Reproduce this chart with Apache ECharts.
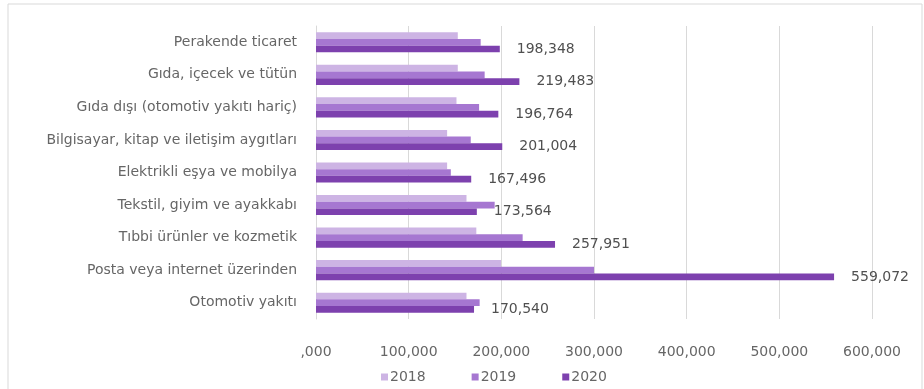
<!DOCTYPE html>
<html><head><meta charset="utf-8">
<script src="https://cdn.jsdelivr.net/npm/echarts@6/dist/echarts.min.js"></script>
<style>html,body{margin:0;padding:0;background:#fff}#c{width:924px;height:389px}</style>
</head><body><div id="c"></div>
<script>
const categories = ["Perakende ticaret","Gıda, içecek ve tütün","Gıda dışı (otomotiv yakıtı hariç)","Bilgisayar, kitap ve iletişim aygıtları","Elektrikli eşya ve mobilya","Tekstil, giyim ve ayakkabı","Tıbbi ürünler ve kozmetik","Posta veya internet üzerinden","Otomotiv yakıtı"];
const s2018 = [153000,153000,151600,141500,141500,162400,173000,199600,162400];
const s2019 = [177700,182000,176000,167000,145500,192800,223000,300000,176600];
const s2020 = [198348,219483,196764,201004,167496,173564,257951,559072,170540];
const seriesNames = ["2018","2019","2020"];
const colors = ["#cdb4e4","#a677d1","#7d41ae"];
const fmt = v => v === 0 ? ",000" : v.toLocaleString("en-US");
const font = "DejaVu Sans, sans-serif";
const fs = 14;
const chart = echarts.init(document.getElementById("c"));
const data = [s2018, s2019, s2020];
chart.setOption({
  animation:false,
  textStyle:{fontFamily:font},
  graphic:[{type:"rect",shape:{x:8,y:4,width:914,height:392},style:{fill:"none",stroke:"#d9d9d9",lineWidth:1}}],
  grid:{left:316,right:52,top:26,bottom:70},
  legend:{top:365,left:376,itemWidth:7,itemHeight:7,itemGap:46,icon:"rect",
    textStyle:{fontFamily:font,fontSize:fs,color:"#666666",padding:[0,0,0,-3]},data:seriesNames},
  xAxis:{type:"value",min:0,max:600000,interval:100000,
    axisLine:{show:false},axisTick:{show:false},
    splitLine:{lineStyle:{color:"#d9d9d9"}},
    axisLabel:{formatter:fmt,margin:26,fontFamily:font,fontSize:fs,color:"#666666"}},
  yAxis:{type:"category",inverse:true,data:categories,
    axisLine:{show:true,lineStyle:{color:"#d9d9d9"}},axisTick:{show:false},
    axisLabel:{margin:19,fontFamily:font,fontSize:fs,color:"#666666"}},
  series:seriesNames.map((n,i)=>({
    name:n,type:"bar",data:data[i],barWidth:6.7,barGap:"0%",
    itemStyle:{color:colors[i]},
    label:{show:i===2,position:"right",distance:17,formatter:p=>fmt(p.value),
      fontFamily:font,fontSize:fs,color:"#505050"}
  }))
});
</script></body></html>
